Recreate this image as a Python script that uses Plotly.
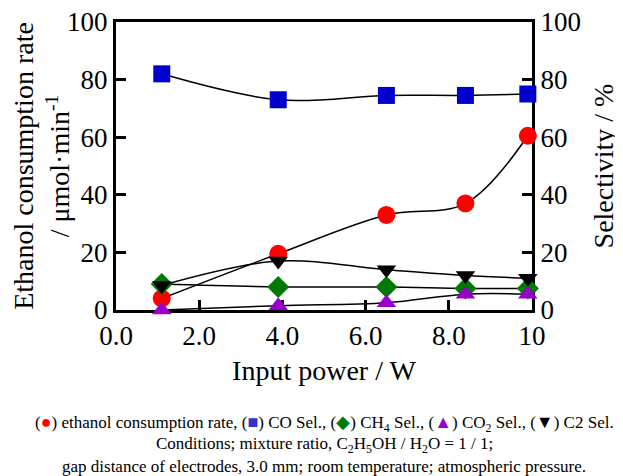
import plotly.graph_objects as go

power = [1.1, 3.9, 6.5, 8.4, 9.9]
ethanol_rate = [4.0, 19.5, 33.0, 37.0, 60.5]
co_sel = [82.0, 73.0, 74.5, 74.5, 75.0]
ch4_sel = [9.0, 8.0, 8.0, 7.5, 7.5]
co2_sel = [0.0, 1.5, 2.5, 5.5, 5.5]
c2_sel = [8.5, 17.0, 14.0, 12.0, 11.0]

x_ticks = [0, 2, 4, 6, 8, 10]
x_ticklabels = ["0.0", "2.0", "4.0", "6.0", "8.0", "10"]
y_ticks = [0, 20, 40, 60, 80, 100]

FONT = "Liberation Serif, Times New Roman, serif"
fig = go.Figure()

def add(y, sym, color, size, axis):
    fig.add_trace(go.Scatter(
        x=power, y=y, mode="lines+markers", yaxis=axis,
        line=dict(color="black", width=1.5, shape="spline", smoothing=1.0),
        marker=dict(symbol=sym, color=color, size=size, line=dict(width=0)),
        showlegend=False, cliponaxis=False))

add(co_sel, "square", "#0000cc", 17, "y2")
add(ch4_sel, "diamond", "#007a00", 17, "y2")
add(co2_sel, "triangle-up", "#9900cc", 17, "y2")
add(c2_sel, "triangle-down", "black", 17, "y2")
add(ethanol_rate, "circle", "#ff0000", 18, "y")

axis_common = dict(ticks="inside", ticklen=10, tickwidth=3, tickcolor="black",
                   showline=True, linewidth=3, linecolor="black", showgrid=False,
                   zeroline=False, automargin=False, ticklabeloverflow="allow",
                   layer="below traces",
                   tickfont=dict(family=FONT, size=27, color="black"))

fig.update_layout(
    width=615, height=468,
    margin=dict(l=108, r=91, t=14, b=166),
    plot_bgcolor="white", paper_bgcolor="white",
    font=dict(family=FONT, color="black"),
    xaxis=dict(range=[0, 10], tickvals=x_ticks, ticktext=x_ticklabels, mirror=True,
               title=dict(text="Input power / W", font=dict(family=FONT, size=28), standoff=10),
               **axis_common),
    yaxis=dict(range=[0, 100], tickvals=y_ticks,
               title=dict(text="Ethanol consumption rate<br>/ μmol·min<sup>-1</sup>",
                          font=dict(family=FONT, size=28), standoff=0),
               **axis_common),
    yaxis2=dict(range=[0, 100], tickvals=y_ticks, overlaying="y", side="right",
                title=dict(text="Selectivity / %", font=dict(family=FONT, size=28), standoff=14),
                **axis_common),
)

sym = "<span style='color:%s;font-size:18px'>%s</span>"
caption_lines = [
    ("(" + sym % ("#ff0000", "●") + ") ethanol consumption rate, ("
     + sym % ("#3333cc", "■") + ") CO Sel., ("
     + sym % ("#007a00", "◆") + ") CH<sub>4</sub> Sel., ("
     + sym % ("#9900cc", "▲") + ") CO<sub>2</sub> Sel., ("
     + sym % ("#000000", "▼") + ") C2 Sel.", -113),
    ("Conditions; mixture ratio, C<sub>2</sub>H<sub>5</sub>OH / H<sub>2</sub>O = 1 / 1;", -135),
    ("gap distance of electrodes, 3.0 mm; room temperature; atmospheric pressure.", -156),
]
for text, dy in caption_lines:
    fig.add_annotation(text=text, xref="paper", yref="paper", x=0.5, y=0,
                       xanchor="center", yanchor="middle", yshift=dy, showarrow=False,
                       align="center", font=dict(family=FONT, size=17, color="black"))

fig.write_html("out.html")
